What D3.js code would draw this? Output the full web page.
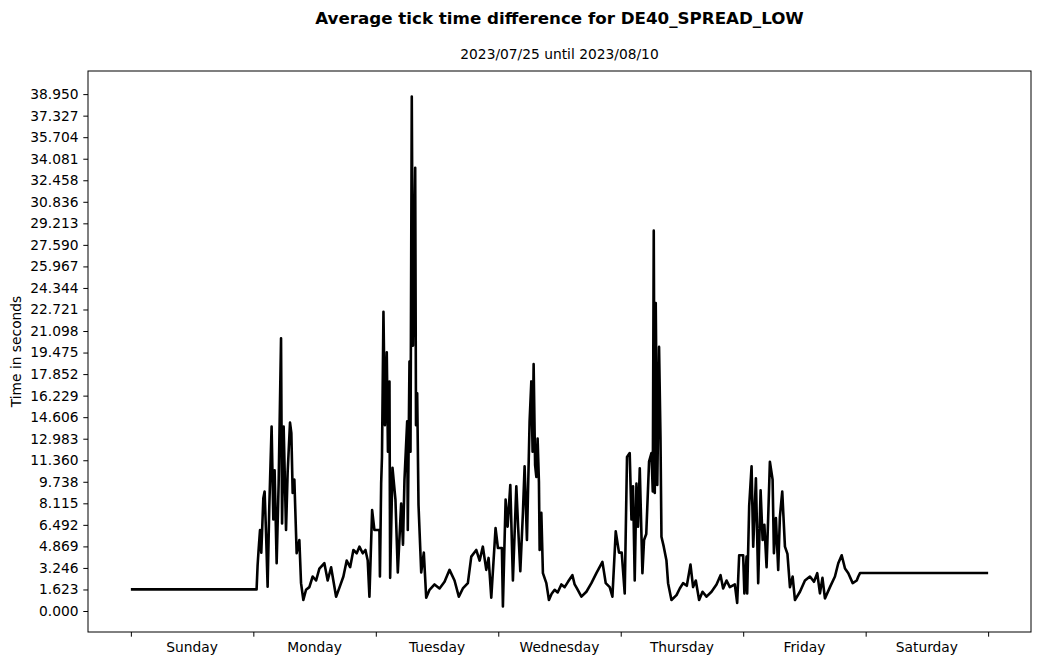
<!DOCTYPE html>
<html>
<head>
<meta charset="utf-8">
<script src="https://cdn.jsdelivr.net/npm/d3@7"></script>
<style>
  html, body { margin: 0; padding: 0; background: #fff; }
  svg { display: block; }
  text { font-family: "DejaVu Sans", sans-serif; fill: #000; }
</style>
</head>
<body>
<svg id="chart" width="1039" height="664"></svg>
<script>
// ---------------- data ----------------
const titleText = "Average tick time difference for DE40_SPREAD_LOW";
const subtitleText = "2023/07/25 until 2023/08/10";
const yLabelText = "Time in seconds";

const dayLabels = ["Sunday", "Monday", "Tuesday", "Wednesday", "Thursday", "Friday", "Saturday"];
const dayBoundaries = [0, 24, 48, 72, 96, 120, 144, 168]; // hours since Sunday 00:00

const yTickLabels = ["0.000", "1.623", "3.246", "4.869", "6.492", "8.115", "9.738", "11.360",
  "12.983", "14.606", "16.229", "17.852", "19.475", "21.098", "22.721", "24.344", "25.967",
  "27.590", "29.213", "30.836", "32.458", "34.081", "35.704", "37.327", "38.950"];

// hours since Sunday 00:00
const hours = [0, 24.64, 24.84, 25.03, 25.31, 25.56, 25.96, 26.21, 26.49, 26.80, 27.13, 27.58, 27.92,
  28.17, 28.57, 28.96, 29.43, 29.63, 29.94, 30.41, 30.72, 31.19, 31.45, 31.71, 32.04, 32.49, 33.02,
  33.35, 33.80, 34.33, 34.98, 35.63, 36.30, 36.94, 37.92, 38.57, 39.24, 40.22, 40.91, 41.65, 42.30,
  42.97, 43.61, 44.26, 44.79, 45.44, 45.97, 46.42, 46.75, 47.28, 47.73, 48.71, 48.81, 49.05, 49.21,
  49.50, 49.79, 50.15, 50.38, 50.68, 50.81, 51.27, 51.85, 52.31, 52.97, 53.33, 53.62, 54.15, 54.27,
  54.60, 54.80, 55.05, 55.29, 55.72, 55.88, 56.11, 56.37, 56.90, 57.41, 57.88, 58.53, 59.51, 60.49,
  61.47, 62.45, 63.43, 64.27, 65.06, 66.04, 66.71, 67.69, 68.34, 68.98, 69.65, 70.10, 70.63, 71.47,
  71.93, 72.71, 72.91, 73.44, 73.83, 74.36, 74.87, 75.54, 75.89, 76.32, 76.83, 77.16, 77.62, 78.14,
  78.48, 78.73, 78.93, 79.22, 79.46, 79.71, 79.97, 80.11, 80.44, 80.75, 81.42, 81.93, 82.46, 83.05,
  83.64, 84.36, 85.01, 85.66, 86.52, 86.97, 87.42, 88.29, 89.27, 90.25, 91.23, 92.41, 93.06, 93.84,
  94.37, 95.02, 95.66, 96.19, 96.78, 97.23, 97.76, 98.10, 98.41, 98.74, 99.08, 99.39, 99.73, 100.25,
  100.57, 101.00, 101.55, 102.02, 102.28, 102.47, 102.67, 102.86, 103.16, 103.35, 103.51, 103.79,
  103.98, 104.43, 104.96, 105.28, 105.94, 106.93, 107.57, 108.22, 108.95, 109.67, 110.18, 110.71,
  111.36, 112.03, 112.81, 113.79, 114.77, 115.56, 116.07, 116.74, 117.38, 118.36, 118.82, 119.21,
  119.99, 120.23, 120.66, 120.78, 121.17, 121.64, 121.96, 122.49, 122.94, 123.41, 123.80, 124.15,
  124.58, 124.90, 125.23, 125.76, 126.02, 126.41, 126.86, 127.19, 127.65, 128.18, 128.67, 129.16,
  129.69, 130.14, 131.12, 132.10, 133.08, 133.87, 134.51, 135.04, 135.53, 136.02, 137.00, 137.98,
  138.63, 139.30, 139.95, 140.60, 141.46, 142.25, 142.56, 142.89, 168.00];

// average tick time difference in seconds
const seconds = [1.63, 1.63, 3.47, 4.6, 6.1, 4.4, 8.5, 9.0, 5.9, 1.83, 7.9, 13.9, 6.9,
  10.6, 3.6, 9.6, 20.55, 6.6, 13.9, 6.1, 10.4, 14.2, 13.4, 8.9, 9.9, 4.35, 5.35,
  2.1, 0.83, 1.6, 1.8, 2.6, 2.3, 3.2, 3.6, 2.3, 3.3, 1.08, 1.8, 2.6, 3.8,
  3.3, 4.6, 4.35, 4.85, 4.35, 4.6, 3.8, 1.08, 7.6, 6.1, 6.1, 2.6, 9.6, 11.6,
  22.55, 14.0, 19.5, 12.0, 17.3, 2.5, 10.8, 8.4, 2.9, 8.1, 5.0, 9.9, 14.3, 6.1,
  18.8, 12.0, 38.77, 20.0, 33.4, 14.0, 16.4, 8.0, 2.9, 4.4, 1.0, 1.6, 2.0, 1.7,
  2.2, 3.1, 2.3, 1.08, 1.7, 2.1, 4.1, 4.6, 3.8, 4.85, 3.1, 4.0, 1.0, 6.25,
  4.75, 4.75, 0.34, 8.4, 6.35, 9.5, 2.3, 9.4, 6.35, 3.0, 7.4, 10.9, 5.35, 14.3,
  17.3, 12.0, 18.6, 11.0, 10.1, 13.0, 9.7, 4.6, 7.4, 2.85, 2.1, 0.83, 1.3, 1.6,
  1.4, 2.0, 1.8, 2.2, 2.7, 2.0, 1.7, 1.08, 1.45, 2.1, 2.85, 3.7, 2.1, 1.8,
  1.08, 6.0, 4.4, 4.4, 1.33, 11.6, 11.9, 6.9, 9.4, 2.3, 9.6, 6.35, 10.75, 2.85,
  5.35, 5.8, 11.25, 11.9, 9.0, 28.66, 8.9, 23.2, 9.5, 15.0, 19.9, 13.1,
  5.6, 4.85, 3.8, 2.1, 0.83, 1.2, 1.7, 2.1, 1.9, 3.5, 1.8, 2.3,
  0.83, 1.45, 1.08, 1.45, 2.0, 2.7, 1.7, 2.3, 1.8, 2.0, 0.6, 4.2,
  4.2, 1.33, 4.1, 1.33, 7.9, 10.9, 4.85, 10.0, 2.1, 9.1, 5.35, 6.5,
  3.3, 7.1, 11.25, 9.9, 4.35, 7.0, 3.1, 7.1, 9.0, 4.85, 4.3, 1.8,
  2.6, 0.83, 1.45, 2.3, 2.6, 2.2, 2.85, 1.33, 2.5, 0.95, 1.8, 2.6,
  3.6, 4.2, 3.2, 2.85, 2.1, 2.3, 2.6, 2.86, 2.86];

// ---------------- layout ----------------
const W = 1039, H = 664;
const margin = { left: 88, right: W - 1031, top: 71, bottom: H - 632 };

const svg = d3.select("#chart");
const pw = W - margin.left - margin.right;
const ph = H - margin.top - margin.bottom;

const data = hours.map((h, i) => ({ h, v: seconds[i] }));

// matplotlib-style 5% margins
const xExt = d3.extent(hours);
const xPad = (xExt[1] - xExt[0]) * 0.05;
const yExt = d3.extent(seconds);
const yPad = (yExt[1] - yExt[0]) * 0.05;

const x = d3.scaleLinear().domain([xExt[0] - xPad, xExt[1] + xPad]).range([margin.left, margin.left + pw]);
const y = d3.scaleLinear().domain([yExt[0] - yPad, yExt[1] + yPad]).range([margin.top + ph, margin.top]);

// line
const line = d3.line().x(d => x(d.h)).y(d => y(d.v));
svg.append("path")
  .datum(data)
  .attr("d", line)
  .attr("fill", "none")
  .attr("stroke", "#000")
  .attr("stroke-width", 2.6)
  .attr("stroke-linejoin", "round");

// frame
svg.append("rect")
  .attr("x", margin.left).attr("y", margin.top)
  .attr("width", pw).attr("height", ph)
  .attr("fill", "none").attr("stroke", "#000").attr("stroke-width", 1);

// y axis
const yTickVals = yTickLabels.map(Number);
const yAxis = d3.axisLeft(y).tickValues(yTickVals)
  .tickFormat((d, i) => yTickLabels[i]).tickSizeOuter(0).tickSize(4.7).tickPadding(4.8);
const gy = svg.append("g").attr("transform", `translate(${margin.left},0)`).call(yAxis);
gy.select(".domain").remove();
gy.selectAll("text").style("font-family", "DejaVu Sans").style("font-size", "13.8px");
gy.selectAll("line").attr("stroke-width", 1);

// x axis: ticks at day boundaries, labels centred in each day
const xAxis = d3.axisBottom(x).tickValues(dayBoundaries).tickFormat("").tickSizeOuter(0).tickSize(4.7);
const gx = svg.append("g").attr("transform", `translate(0,${margin.top + ph})`).call(xAxis);
gx.select(".domain").remove();
gx.selectAll("line").attr("stroke-width", 1);

svg.append("g").selectAll("text")
  .data(dayLabels)
  .join("text")
  .attr("x", (d, i) => x((dayBoundaries[i] + dayBoundaries[i + 1]) / 2))
  .attr("y", margin.top + ph + 20)
  .attr("text-anchor", "middle")
  .style("font-size", "13.8px")
  .text(d => d);

// titles
svg.append("text")
  .attr("x", margin.left + pw / 2).attr("y", 24)
  .attr("text-anchor", "middle")
  .style("font-size", "16.7px").style("font-weight", "bold")
  .text(titleText);

svg.append("text")
  .attr("x", margin.left + pw / 2).attr("y", 59)
  .attr("text-anchor", "middle")
  .style("font-size", "13.8px")
  .text(subtitleText);

svg.append("text")
  .attr("transform", `translate(21,${margin.top + ph / 2}) rotate(-90)`)
  .attr("text-anchor", "middle")
  .style("font-size", "13.8px")
  .text(yLabelText);
</script>
</body>
</html>
